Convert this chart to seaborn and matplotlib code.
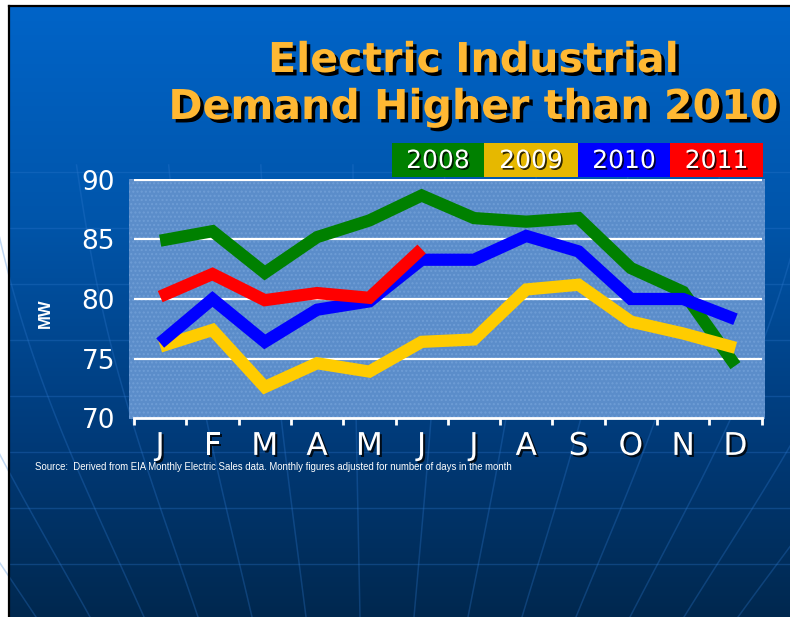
import numpy as np
import pandas as pd
import matplotlib
matplotlib.use("Agg")
import matplotlib.pyplot as plt
import matplotlib.patheffects as pe
from matplotlib.colors import LinearSegmentedColormap
import seaborn as sns

# ---------------- data ----------------
months = ["J", "F", "M", "A", "M", "J", "J", "A", "S", "O", "N", "D"]
years = ["2008", "2009", "2010", "2011"]
y2008 = [84.9, 85.7, 82.2, 85.2, 86.6, 88.7, 86.8, 86.5, 86.8, 82.6, 80.6, 74.4]
y2009 = [76.0, 77.4, 72.6, 74.6, 73.9, 76.4, 76.6, 80.8, 81.2, 78.1, 77.1, 75.9]
y2010 = [76.3, 80.0, 76.4, 79.1, 79.8, 83.3, 83.3, 85.3, 84.0, 80.0, 80.0, 78.3]
y2011 = [80.2, 82.1, 79.9, 80.5, 80.1, 84.2]
yticks = [70, 75, 80, 85, 90]
line_colors = ["#008000", "#FFCC00", "#0000FF", "#FF0000"]
legend_colors = ["#008000", "#E6B800", "#0000FF", "#FF0000"]
title_lines = ["Electric Industrial", "Demand Higher than 2010"]
source = ("Source:  Derived from EIA Monthly Electric Sales data. "
          "Monthly figures adjusted for number of days in the month")

rows = []
for yr, vals in zip(years, [y2008, y2009, y2010, y2011]):
    for i, v in enumerate(vals):
        rows.append({"month_idx": i, "MW": v, "year": yr})
df = pd.DataFrame(rows)

# ---------------- figure ----------------
W, H = 790, 617
fig = plt.figure(figsize=(W / 100, H / 100), dpi=100, facecolor="white")

# background (pixel coordinates)
bg = fig.add_axes([0, 0, 1, 1])
bg.set_xlim(0, W)
bg.set_ylim(H, 0)
bg.axis("off")
cmap = LinearSegmentedColormap.from_list(
    "slide", [(0, "#0064C8"), (0.35, "#0055AA"), (0.7, "#003B7A"), (1.0, "#00284F")])
grad = np.linspace(0, 1, 256).reshape(-1, 1)
bg.imshow(grad, cmap=cmap, aspect="auto", extent=[9, W, H, 6], zorder=0)
# faint globe lines
for yy in range(172, H, 56):
    bg.plot([9, W], [yy, yy], color="#2F7AD0", alpha=0.3, lw=1, zorder=1)
pole_x, pole_y = 370.0, 1257.0
for xb in np.arange(-180, 1000, 54):
    ys = np.linspace(165, H, 80)
    frac = (pole_y - ys) / (pole_y - H)
    xs = pole_x + (xb - pole_x) * frac * (1 + 0.06 * np.sin(np.pi * (ys - 165) / (H - 165)))
    bg.plot(xs, ys, color="#2F7AD0", alpha=0.3, lw=1.1, zorder=1)
bg.plot([9, 9], [6, H], color="black", lw=1.6, zorder=2)
bg.plot([9, W], [6, 6], color="black", lw=1.6, zorder=2)

# title
for txt, yb in zip(title_lines, [72, 119]):
    bg.text(474, yb, txt, ha="center", va="baseline", fontsize=29.6,
            fontweight="bold", family="DejaVu Sans", color="#FFB833",
            path_effects=[pe.withSimplePatchShadow(offset=(2.5, -2.5),
                                                   shadow_rgbFace="black", alpha=1.0)],
            zorder=5)

# legend boxes
box_edges = [392, 484, 578, 670, 763]
for k, yr in enumerate(years):
    x0, x1 = box_edges[k], box_edges[k + 1]
    bg.add_patch(plt.Rectangle((x0, 143), x1 - x0, 34, facecolor=legend_colors[k],
                               edgecolor="none", zorder=3))
    bg.text((x0 + x1) / 2, 161, yr, ha="center", va="center", fontsize=18,
            family="DejaVu Sans", color="white", zorder=4,
            path_effects=[pe.withSimplePatchShadow(offset=(1.2, -1.2),
                                                   shadow_rgbFace="black", alpha=0.8)])

# source note
bg.text(35, 467, source, ha="left", va="center", fontsize=6.9,
        family="Liberation Sans", color="white", zorder=4)

# ---------------- main plot ----------------
L, R, T, B = 129, 765, 179, 419
ax = fig.add_axes([L / W, (H - B) / H, (R - L) / W, (B - T) / H])
ax.set_facecolor("#5B8DCA")
ax.patch.set_hatch("....")
ax.patch.set_edgecolor("#6E9DD6")
ax.patch.set_linewidth(0)

for yv in yticks[1:]:
    ax.plot([-0.5, 11.5], [yv, yv], color="white", lw=1.6, zorder=1,
            solid_capstyle="butt")

sns.lineplot(data=df, x="month_idx", y="MW", hue="year", hue_order=years,
             palette=line_colors, lw=8.8, ax=ax, legend=False, sort=False,
             solid_capstyle="butt", solid_joinstyle="miter", zorder=3)

ax.set_xlim(-0.596, 11.565)
ax.set_ylim(69.916, 90.084)
for s in ["top", "right", "left"]:
    ax.spines[s].set_visible(False)
ax.spines["bottom"].set_color("white")
ax.spines["bottom"].set_linewidth(2)
ax.spines["bottom"].set_bounds(-0.5, 11.5)
ax.spines["bottom"].set_position(("data", 70))

ax.set_xticks(range(len(months)))
ax.set_xticklabels(months)
ax.set_xticks(np.arange(-0.5, 12, 1), minor=True)
ax.tick_params(axis="x", which="major", length=0, pad=10, labelsize=22.5,
               labelcolor="white")
ax.tick_params(axis="x", which="minor", length=5, width=2, color="white",
               direction="out")
for lab in ax.get_xticklabels():
    lab.set_family("DejaVu Sans")
    lab.set_path_effects([pe.withSimplePatchShadow(offset=(1.5, -1.5),
                                                   shadow_rgbFace="black", alpha=0.8)])

ax.set_yticks(yticks)
ax.tick_params(axis="y", length=0, pad=10, labelsize=19, labelcolor="white")
for lab in ax.get_yticklabels():
    lab.set_family("DejaVu Sans")

ax.set_xlabel("")
ax.set_ylabel("")
fig.text(45 / W, 1 - 313 / H, "MW", rotation=90, ha="center", va="center",
         fontsize=12, fontweight="bold", family="Liberation Sans", color="white")

fig.savefig("out.png", dpi=100, facecolor="white")
